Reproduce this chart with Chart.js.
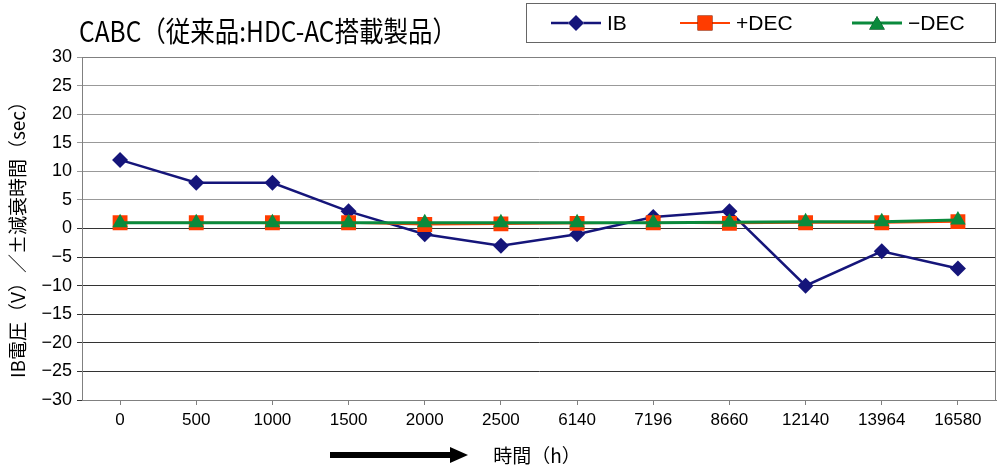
<!DOCTYPE html>
<html>
<head>
<meta charset="utf-8">
<script src="https://cdn.jsdelivr.net/npm/chart.js@4/dist/chart.umd.min.js"></script>
<style>
  html, body { margin: 0; padding: 0; background: #fff; }
</style>
</head>
<body>
<canvas id="chart" width="1000" height="473"></canvas>
<script>
// chart data
const hours = ['0', '500', '1000', '1500', '2000', '2500', '6140', '7196', '8660', '12140', '13964', '16580'];
const ibVolt = [12, 8, 8, 3, -1, -3, -1, 2, 3, -10, -4, -7];
const decPlus = [1, 1, 1, 1, 0.7, 0.8, 0.9, 1, 0.9, 1, 1, 1.2];
const decMinus = [1, 1, 1, 1, 1, 1, 1, 1, 1.1, 1.2, 1.2, 1.5];
const seriesNames = ['IB', '+DEC', '−DEC'];
const yMin = -30, yMax = 30, yStep = 5;

const titleText = 'CABC（従来品:HDC-AC搭載製品）';
const yTitle = 'IB電圧（V）／±減衰時間（sec）';
const xTitle = '時間（h）';

const jpFont = '"Noto Sans CJK JP", "Noto Sans", sans-serif';
const numFont = '"Liberation Sans", Arial, sans-serif';

// title, legend box, axis titles, arrow
const decorations = {
    id: 'decorations',
    afterDraw(chart) {
        const ctx = chart.ctx;
        const area = chart.chartArea;
        ctx.save();

        // plot frame
        ctx.strokeStyle = '#808080';
        ctx.lineWidth = 1;
        ctx.strokeRect(area.left + 0.5, area.top + 0.5, area.right - area.left - 1, area.bottom - area.top);

        // title, squeezed to the narrow look of the original
        ctx.fillStyle = '#000';
        ctx.font = '28px ' + jpFont;
        ctx.textBaseline = 'middle';
        ctx.textAlign = 'left';
        const tw = ctx.measureText(titleText).width;
        ctx.save();
        ctx.translate(79, 31);
        ctx.scale(378 / tw, 1);
        ctx.fillText(titleText, 0, 0);
        ctx.restore();

        // legend
        ctx.fillStyle = '#fff';
        ctx.fillRect(526, 3, 469, 39);
        ctx.strokeStyle = '#666';
        ctx.strokeRect(526.5, 3.5, 469, 39);
        const legendX = [551, 680, 852];
        chart.data.datasets.forEach((ds, i) => {
            const x0 = legendX[i], y = 23;
            ctx.strokeStyle = ds.borderColor;
            ctx.lineWidth = ds.borderWidth;
            ctx.beginPath();
            ctx.moveTo(x0, y);
            ctx.lineTo(x0 + 50, y);
            ctx.stroke();
            Chart.helpers.drawPoint(ctx, {
                pointStyle: ds.pointStyle,
                radius: ds.pointRadius,
                borderWidth: 0,
                rotation: 0
            }, x0 + 25, y + (ds.pointStyle === 'triangle' ? 2 : 0));
            ctx.fillStyle = ds.pointBackgroundColor;
            ctx.fill();
            ctx.fillStyle = '#000';
            ctx.font = '21px ' + numFont;
            ctx.textAlign = 'left';
            ctx.textBaseline = 'middle';
            ctx.fillText(ds.label, x0 + 56, y + 1);
        });

        // y title (rotated)
        ctx.save();
        ctx.translate(18, 235);
        ctx.rotate(-Math.PI / 2);
        ctx.font = '19px ' + jpFont;
        ctx.textAlign = 'center';
        ctx.textBaseline = 'middle';
        ctx.fillStyle = '#000';
        ctx.fillText(yTitle, 0, 0);
        ctx.restore();

        // x title and arrow
        ctx.fillStyle = '#000';
        ctx.font = '19px ' + jpFont;
        ctx.textAlign = 'center';
        ctx.textBaseline = 'middle';
        ctx.fillText(xTitle, 537, 456);

        ctx.beginPath();
        ctx.moveTo(330, 452);
        ctx.lineTo(450, 452);
        ctx.lineTo(450, 447);
        ctx.lineTo(468, 455);
        ctx.lineTo(450, 463);
        ctx.lineTo(450, 458);
        ctx.lineTo(330, 458);
        ctx.closePath();
        ctx.fill();

        ctx.restore();
    }
};

const ctx = document.getElementById('chart').getContext('2d');
new Chart(ctx, {
    type: 'line',
    data: {
        labels: hours,
        datasets: [
            {
                label: seriesNames[0],
                data: ibVolt,
                borderColor: '#15157a',
                backgroundColor: '#15157a',
                pointBackgroundColor: '#15157a',
                borderWidth: 2.5,
                pointStyle: 'rectRot',
                pointRadius: 8,
                pointBorderWidth: 0,
                order: 3
            },
            {
                label: seriesNames[1],
                data: decPlus,
                borderColor: '#ff4000',
                backgroundColor: '#ff4000',
                pointBackgroundColor: '#ff3c00',
                borderWidth: 2,
                pointStyle: 'rect',
                pointRadius: 10.5,
                pointBorderWidth: 0,
                order: 2
            },
            {
                label: seriesNames[2],
                data: decMinus,
                borderColor: '#0a8a3c',
                backgroundColor: '#0a8a3c',
                pointBackgroundColor: '#0a8a3c',
                borderWidth: 3,
                pointStyle: 'triangle',
                pointRadius: 9,
                pointBorderWidth: 0,
                order: 1
            }
        ]
    },
    options: {
        responsive: false,
        animation: false,
        layout: { autoPadding: false, padding: { top: 57, right: 4, left: 0, bottom: 0 } },
        plugins: {
            legend: { display: false },
            tooltip: { enabled: false },
            title: { display: false }
        },
        scales: {
            x: {
                offset: true,
                afterFit: s => {
                    s.height = 73;
                    s.paddingLeft = 0;
                    s.paddingRight = 0;
                },
                border: { color: '#808080' },
                grid: {
                    drawOnChartArea: false,
                    drawTicks: true,
                    tickLength: 5,
                    color: '#808080',
                    offset: false
                },
                ticks: {
                    color: '#000',
                    padding: 5,
                    maxRotation: 0,
                    autoSkip: false,
                    font: { family: numFont, size: 17 }
                }
            },
            y: {
                min: yMin,
                max: yMax,
                afterFit: s => {
                    s.width = 82;
                    s.paddingTop = 0;
                    s.paddingBottom = 0;
                },
                border: { color: '#808080' },
                grid: {
                    tickLength: 5,
                    color: c => (c.tick && c.tick.value > 0) ? '#999999' : '#333333'
                },
                ticks: {
                    stepSize: yStep,
                    color: '#000',
                    padding: 5,
                    font: { family: numFont, size: 18 },
                    callback: v => String(v).replace('-', '−')
                }
            }
        }
    },
    plugins: [decorations]
});
</script>
</body>
</html>
